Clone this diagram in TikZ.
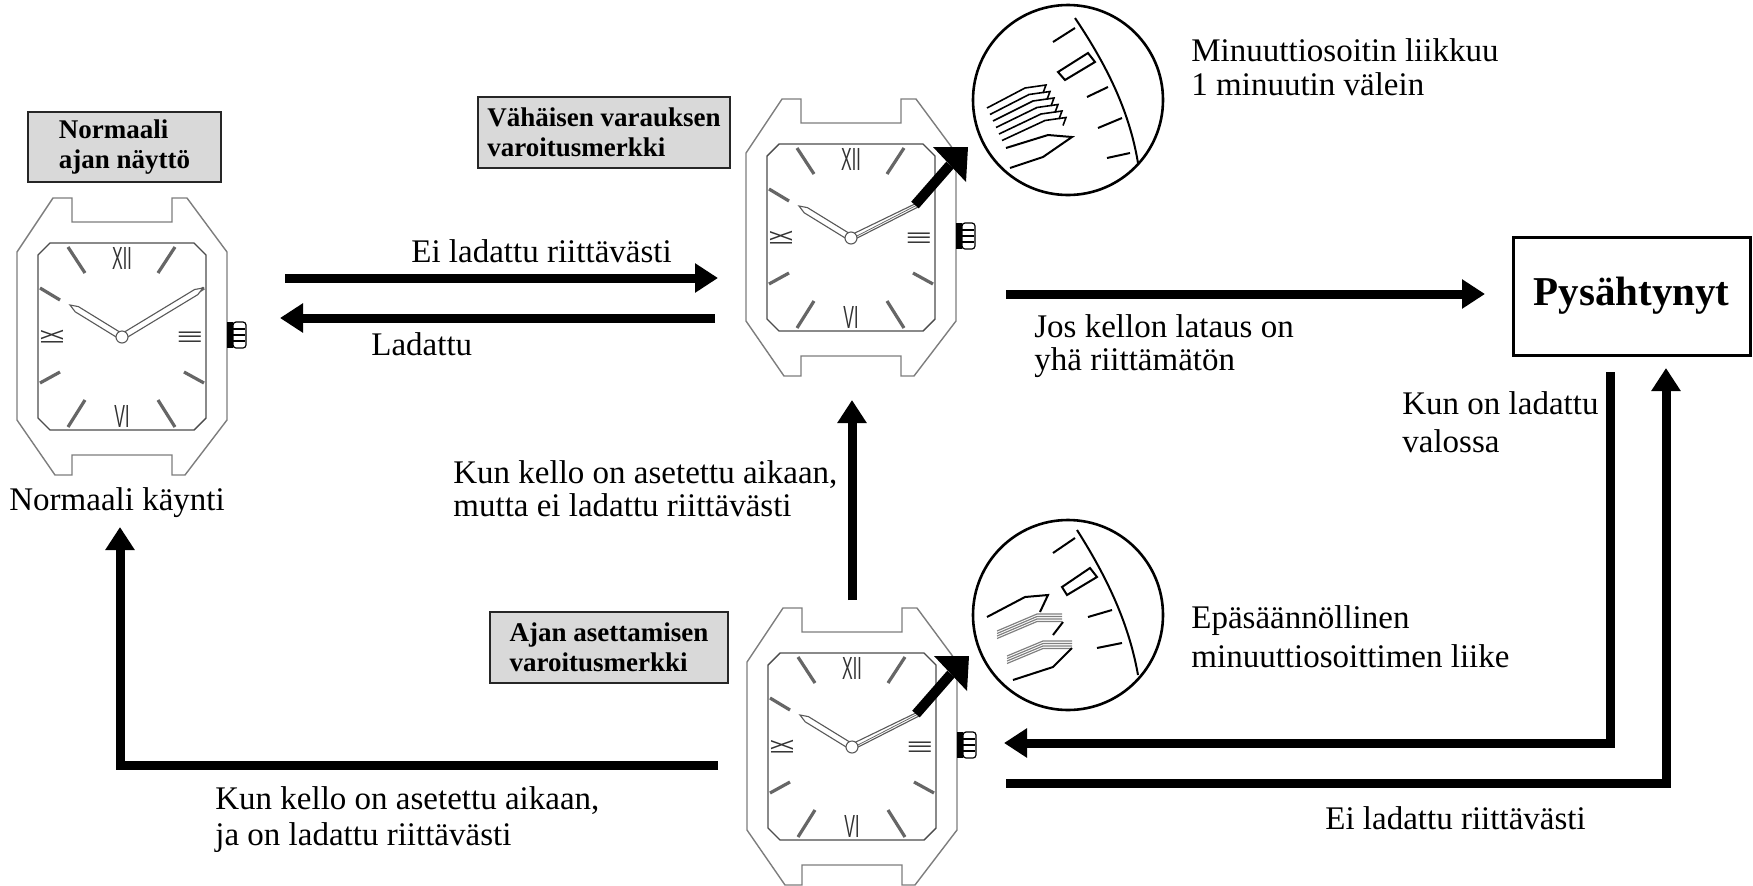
\documentclass[tikz,border=0pt]{standalone}
\usepackage{fontspec}
\setmainfont{Liberation Serif}
\newfontfamily\dialfont{Liberation Sans}
\usepackage{graphicx}
\usetikzlibrary{arrows.meta}
\definecolor{tagfill}{RGB}{217,217,217}
\definecolor{casegray}{RGB}{125,125,125}
\tikzset{
  casel/.style={draw=casegray,line width=0.7pt},
  diall/.style={draw=black!70,line width=0.7pt},
  tickl/.style={draw=black!60,line width=1.6pt},
  handl/.style={draw=black!65,line width=0.55pt,fill=white},
  numl/.style={inner sep=0pt,font=\dialfont\fontsize{16}{16}\selectfont,text=black!80},
  magl/.style={draw=black,line width=1pt},
  magg/.style={draw=black!50,line width=0.6pt},
  lbl/.style={anchor=west,inner sep=0pt,align=left,font=\fontsize{16.5}{16.5}\selectfont},
  tagbox/.style={draw=black!85,line width=0.8pt,fill=tagfill,align=left,inner sep=0pt,font=\bfseries\fontsize{13.5}{15}\selectfont},
  flow/.style={line width=4.5pt,-{Triangle[length=11.5pt,width=14pt]}},
  flowline/.style={line width=4.5pt},
  watchbase/.pic={
    \draw[casel,fill=white] (-105,-85) -- (-69,-139) -- (-50,-139) -- (-50,-115) -- (50,-115) -- (50,-139) -- (65,-139) -- (105,-85) -- (105,83) -- (63,138) -- (50,138) -- (50,118) -- (-50,118) -- (-50,138) -- (-67,138) -- (-105,83) -- cycle;
    \draw[diall] (-84,-82) -- (-72,-94) -- (72,-94) -- (84,-82) -- (84,81) -- (72,93) -- (-72,93) -- (-84,81) -- cycle;
    \fill[black] (105,-15) rectangle (111,11);
    \draw[black,line width=0.6pt,fill=white,rounded corners=1.5pt] (111,-15) rectangle (124,11);
    \draw[black,line width=1.2pt] (111,-8) -- (123,-8) (111,-2) -- (123,-2) (111,4) -- (123,4);
    \draw[tickl] (-54,-90) -- (-37,-64) (36,-64) -- (53,-90) (-82,-49) -- (-62,-37) (63,-37) -- (82,-49)
                 (-82,46) -- (-62,35) (62,35) -- (82,46) (-54,90) -- (-37,63) (36,63) -- (53,90);
    \node[numl] (n12) at (0,-79) {\scalebox{0.5}[1]{XII}};
    \node[numl] (n6) at (0,79) {\scalebox{0.5}[1]{VI}};
    \node[numl,rotate=90] (n9) at (-70,0) {\scalebox{0.5}[1]{IX}};
    \node[numl,rotate=-90] (n3) at (68,0) {\scalebox{0.5}[1]{III}};
    \draw[handl] (1.6,-2.6) -- (-43.6,-30.4) -- (-52,-32) -- (-46.8,-25.2) -- (-1.6,2.6) -- cycle;
  },
  normalwatch/.pic={
    \pic {watchbase};
    \draw[handl] (1.55,2.57) -- (75.7,-42.3) -- (81,-49) -- (72.6,-47.5) -- (-1.55,-2.57) -- cycle;
    \draw[handl] (0,0) circle[radius=6];
  },
  warnwatch/.pic={
    \pic {watchbase};
    \draw[handl] (1.3,2.5) -- (67,-31) -- (70,-37) -- (-1.3,-2.5) -- cycle;
    \draw[black!60,line width=0.4pt] (2,0) -- (68,-34);
    \draw[black,line width=5pt] (64,-33) -- (99,-73);
    \fill[black] (117,-91) -- (82,-91) -- (115,-56) -- cycle;
    \draw[handl] (0,0) circle[radius=6];
  },
}
\begin{document}
\begin{tikzpicture}[x=0.5pt,y=-0.5pt]
\useasboundingbox (0,0) rectangle (1753,885);

% watches
\pic (wN) at (122,337) {normalwatch};
\pic (wV) at (851,238) {warnwatch};
\pic (wA) at (852,747) {warnwatch};

% tag boxes
\node[tagbox,minimum width=96.5pt,minimum height=35pt] (tagN) at (124.5,147) {Normaali\\ajan näyttö};
\node[tagbox,minimum width=126pt,minimum height=35.5pt] (tagV) at (604,132.5) {Vähäisen varauksen\\varoitusmerkki};
\node[tagbox,minimum width=119pt,minimum height=35.5pt] (tagA) at (609,647.5) {Ajan asettamisen\\varoitusmerkki};
\node[draw,line width=1.5pt,minimum width=118.5pt,minimum height=59pt,inner sep=0pt,
      font=\bfseries\fontsize{20.5}{20.5}\selectfont] (stop) at (1631.5,296) {Pysähtynyt};

% magnifier (top)
\node[draw,circle,line width=1.3pt,minimum size=95pt,inner sep=0pt] (magV) at (1068,100) {};
\draw[magl] (1075,18) .. controls (1110,70) and (1130,115) .. (1138,163);
\draw[magl] (1053,42) -- (1075,28) (1087,97) -- (1108,87) (1098,128) -- (1122,118) (1107,158) -- (1130,153);
\draw[magl] (1058,72) -- (1088,53) -- (1095,62) -- (1065,80) -- cycle;
\foreach \k in {0,...,5}
  \draw[magl,line width=0.8pt] ({987+3*\k},{108+6.5*\k}) -- ({1025+4*\k},{88+6.5*\k}) -- ({1046+4*\k},{85+6.5*\k}) -- ({1043+4*\k},{93+6.5*\k});
\draw[magl] (1010,168) -- (1043,157) -- (1072,137) -- (1048,135) -- (1006,148);

% magnifier (bottom)
\node[draw,circle,line width=1.3pt,minimum size=95pt,inner sep=0pt] (magA) at (1068,615) {};
\draw[magl] (1077,530) .. controls (1112,585) and (1130,630) .. (1138,675);
\draw[magl] (1053,553) -- (1075,538) (1088,617) -- (1112,610) (1097,648) -- (1122,643);
\draw[magl] (1062,587) -- (1090,568) -- (1097,577) -- (1067,595) -- cycle;
\draw[magl] (987,617) -- (1025,597) -- (1048,595) -- (1040,612);
\foreach \j in {0,...,3}
  \draw[magg] ({997},{631+2.5*\j}) -- (1037,{614+2.5*\j}) -- (1062,{614+2.5*\j});
\draw[magl] (1063,622) -- (1053,635);
\foreach \j in {0,...,3}
  \draw[magg] ({1007},{656+2.5*\j}) -- (1043,{641+2.5*\j}) -- (1072,{641+2.5*\j});
\draw[magl] (1013,680) -- (1053,667) -- (1072,648);

% connector end points
\coordinate (p1s) at (285,278); \coordinate (p1e) at (718,278);
\coordinate (p2s) at (715,318); \coordinate (p2e) at (280,318);
\coordinate (p3s) at (1006,294); \coordinate (p3e) at (1485,294);
\coordinate (p4s) at (852,600); \coordinate (p4e) at (852,400);
\coordinate (p5s) at (718,765); \coordinate (p5e) at (120,527);
\coordinate (p6s) at (1610,372); \coordinate (p6e) at (1004,743);
\coordinate (p7s) at (1006,783); \coordinate (p7e) at (1666,368);

\draw[flow] (p1s) -- (p1e);
\draw[flow] (p2s) -- (p2e);
\draw[flow] (p3s) -- (p3e);
\draw[flow] (p4s) -- (p4e);
\draw[flow] (p5s) -| (p5e);
\draw[flow] (p6s) |- (p6e);
\draw[flow] (p7s) -| (p7e);

% labels
\node[lbl] (t1) at (411,251) {Ei ladattu riittävästi};
\node[lbl] (t2) at (371,344) {Ladattu};
\node[lbl] (t3) at (9,503) {Normaali käynti};
\node[lbl] (t4) at (453,489) {Kun kello on asetettu aikaan,\\mutta ei ladattu riittävästi};
\node[lbl] (t5) at (1034,346.5) {Jos kellon lataus on\\yhä riittämätön};
\node[lbl,font=\fontsize{16.5}{19}\selectfont] (t6) at (1402,422) {Kun on ladattu\\valossa};
\node[lbl,font=\fontsize{16.5}{18}\selectfont] (t7) at (215,820) {Kun kello on asetettu aikaan,\\ja on ladattu riittävästi};
\node[lbl] (t8) at (1325,818) {Ei ladattu riittävästi};
\node[lbl,font=\fontsize{16.5}{17}\selectfont] (t9) at (1191,67) {Minuuttiosoitin liikkuu\\1 minuutin välein};
\node[lbl,font=\fontsize{16.5}{19.5}\selectfont] (t10) at (1191,636.5) {Epäsäännöllinen\\minuuttiosoittimen liike};
\end{tikzpicture}
\end{document}
